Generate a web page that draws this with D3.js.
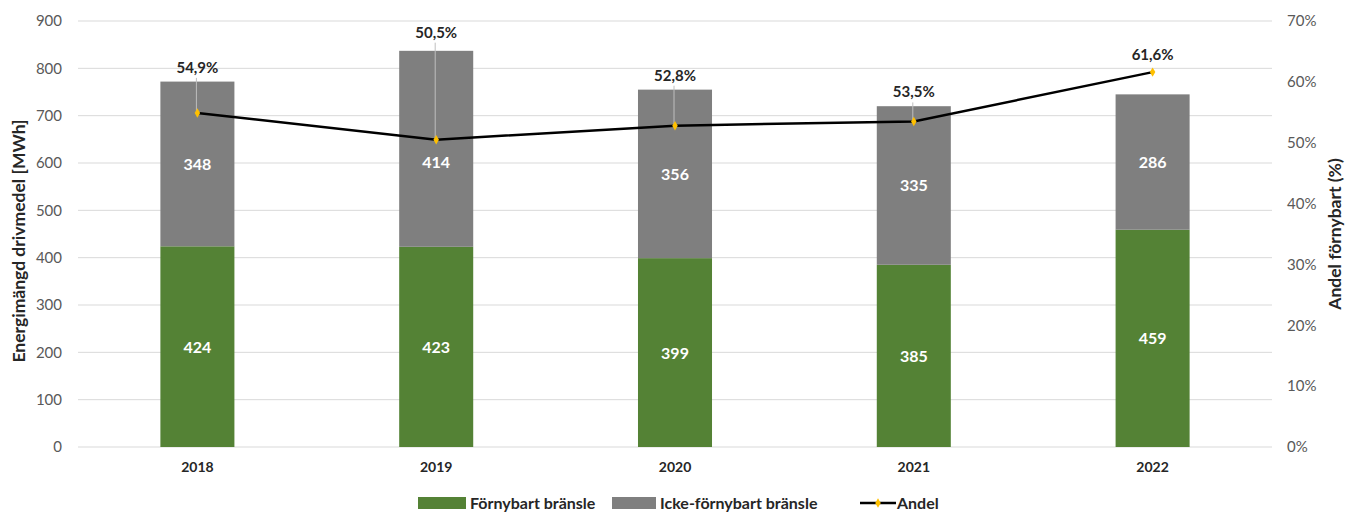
<!DOCTYPE html>
<html><head><meta charset="utf-8">
<script src="https://cdn.jsdelivr.net/npm/d3@7"></script>
<style>body{margin:0;background:#fff}svg{display:block}text{font-family:Lato,"Open Sans",sans-serif}</style>
</head><body><svg id="c" width="1357" height="513"></svg>
<script>
const years = ["2018","2019","2020","2021","2022"];
const fornybart = [424,423,399,385,459];
const ickeFornybart = [348,414,356,335,286];
const andel = [54.9,50.5,52.8,53.5,61.6];
const leftTicks = [0,100,200,300,400,500,600,700,800,900];
const rightTicks = [0,10,20,30,40,50,60,70];
const labelAbove = [45,107,50,29,17]; // label offset above point (px)

const svg = d3.select("#c");
const L=78, R=1272, T=21, B=447;
const x = d3.scaleBand().domain(years).range([L,R]).paddingInner(0.69).paddingOuter(0.345);
const y = d3.scaleLinear().domain([0,900]).range([B,T]);
const y2 = d3.scaleLinear().domain([0,70]).range([B,T]);

svg.append("g").selectAll("line").data(leftTicks).join("line")
  .attr("x1",L).attr("x2",R).attr("y1",d=>y(d)).attr("y2",d=>y(d))
  .attr("stroke","#d9d9d9").attr("stroke-width",1);

const ga = svg.append("g").attr("transform",`translate(${L-16},0)`)
  .call(d3.axisLeft(y).tickValues(leftTicks).tickSize(0).tickPadding(0));
ga.select(".domain").remove();
ga.selectAll("text").attr("fill","#595959").style("font-size","15px").style("font-family","Lato");

const gr = svg.append("g").attr("transform",`translate(${R+15},0)`)
  .call(d3.axisRight(y2).tickValues(rightTicks).tickSize(0).tickPadding(0).tickFormat(d=>d+"%"));
gr.select(".domain").remove();
gr.selectAll("text").attr("fill","#595959").style("font-size","15px").style("font-family","Lato");

const gx = svg.append("g").attr("transform",`translate(0,${B})`)
  .call(d3.axisBottom(x).tickSize(0).tickPadding(15));
gx.select(".domain").remove();
gx.selectAll("text").attr("fill","#262626").style("font-size","14px").style("font-weight","bold").style("font-family","Lato");

const bw = x.bandwidth();
svg.append("g").selectAll("rect").data(years).join("rect")
  .attr("x",d=>x(d)).attr("width",bw)
  .attr("y",(d,i)=>y(fornybart[i])).attr("height",(d,i)=>B-y(fornybart[i]))
  .attr("fill","#548235");
svg.append("g").selectAll("rect").data(years).join("rect")
  .attr("x",d=>x(d)).attr("width",bw)
  .attr("y",(d,i)=>y(fornybart[i]+ickeFornybart[i])).attr("height",(d,i)=>y(fornybart[i])-y(fornybart[i]+ickeFornybart[i]))
  .attr("fill","#7f7f7f");

const cx = d=>x(d)+bw/2;

svg.append("g").selectAll("text").data(years).join("text")
  .attr("x",d=>cx(d)).attr("y",(d,i)=>(y(0)+y(fornybart[i]))/2+6)
  .attr("text-anchor","middle").attr("fill","#fff").style("font-size","16px").style("font-weight","bold")
  .text((d,i)=>fornybart[i]);
svg.append("g").selectAll("text").data(years).join("text")
  .attr("x",d=>cx(d)).attr("y",(d,i)=>{
      let c=(y(fornybart[i])+y(fornybart[i]+ickeFornybart[i]))/2;
      const p=y2(andel[i]);
      if (Math.abs(c-p)<16) c=p+22;
      return c+6;})
  .attr("text-anchor","middle").attr("fill","#fff").style("font-size","16px").style("font-weight","bold")
  .text((d,i)=>ickeFornybart[i]);

svg.append("g").selectAll("line").data(years).join("line")
  .filter((d,i)=>labelAbove[i]>25)
  .attr("x1",d=>cx(d)-1).attr("x2",d=>cx(d)-1)
  .attr("y1",(d,i)=>y2(andel[i])-labelAbove[i]+10).attr("y2",(d,i)=>y2(andel[i]))
  .attr("stroke","#bfbfbf").attr("stroke-width",1);

svg.append("path").datum(years)
  .attr("d",d3.line().x(d=>cx(d)).y((d,i)=>y2(andel[i])))
  .attr("fill","none").attr("stroke","#000").attr("stroke-width",2.5);
svg.append("g").selectAll("path").data(years).join("path")
  .attr("transform",(d,i)=>`translate(${cx(d)},${y2(andel[i])})`)
  .attr("d",d3.symbol(d3.symbolDiamond,26)).attr("fill","#ffc000");

svg.append("g").selectAll("text").data(years).join("text")
  .attr("x",d=>cx(d)).attr("y",(d,i)=>y2(andel[i])-labelAbove[i]+5)
  .attr("text-anchor","middle").attr("fill","#262626").style("font-size","15px").style("font-weight","bold")
  .text((d,i)=>andel[i].toFixed(1).replace(".",",")+"%");

svg.append("text").attr("transform",`translate(25,241) rotate(-90)`)
  .attr("text-anchor","middle").attr("fill","#262626").style("font-size","17.5px").style("font-weight","bold")
  .text("Energimängd drivmedel [MWh]");
svg.append("text").attr("transform",`translate(1341,234) rotate(-90)`)
  .attr("text-anchor","middle").attr("fill","#262626").style("font-size","17.5px").style("font-weight","bold")
  .text("Andel förnybart (%)");

const lg = svg.append("g").attr("transform","translate(0,503)");
lg.append("rect").attr("x",418).attr("y",-6).attr("width",48).attr("height",12).attr("fill","#548235");
lg.append("text").attr("x",470).attr("y",6).text("Förnybart bränsle");
lg.append("rect").attr("x",612).attr("y",-6).attr("width",44).attr("height",12).attr("fill","#7f7f7f");
lg.append("text").attr("x",660).attr("y",6).text("Icke-förnybart bränsle");
lg.append("line").attr("x1",860).attr("x2",896).attr("y1",0).attr("y2",0).attr("stroke","#000").attr("stroke-width",2.5);
lg.append("path").attr("transform","translate(878,0)").attr("d",d3.symbol(d3.symbolDiamond,26)).attr("fill","#ffc000");
lg.append("text").attr("x",897).attr("y",6).text("Andel");
lg.selectAll("text").attr("fill","#262626").style("font-size","16px").style("font-weight","bold");
</script></body></html>
